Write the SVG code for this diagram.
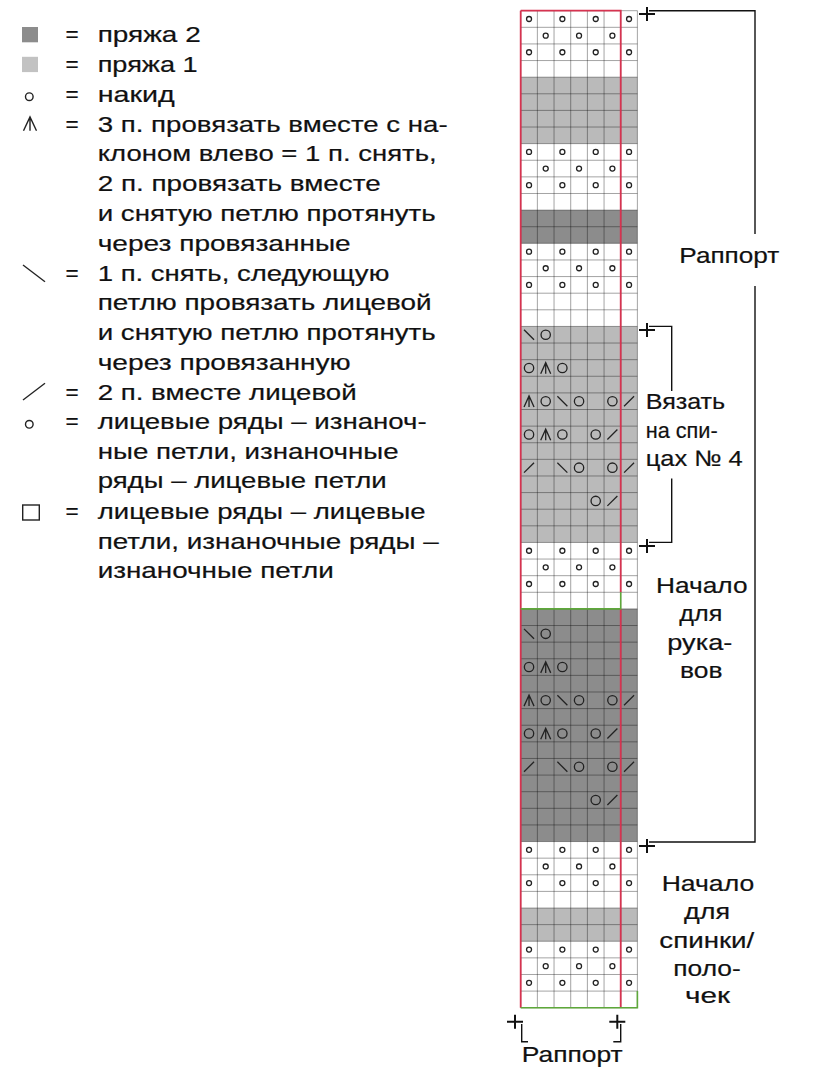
<svg xmlns="http://www.w3.org/2000/svg" xmlns:xlink="http://www.w3.org/1999/xlink" width="823" height="1080" viewBox="0 0 823 1080">
<style>
.t{font-family:"Liberation Sans",Arial,Helvetica,sans-serif;font-size:22.5px;fill:#111;stroke:#111;stroke-width:0.2}
.ln{fill:none;stroke:#111;stroke-width:1.4}
.pl{fill:none;stroke:#111;stroke-width:2}
.ic{fill:none;stroke:#222;stroke-width:1.4}
.grid{fill:none;stroke:#000;stroke-opacity:0.36;stroke-width:1;vector-effect:non-scaling-stroke}
.sym{fill:none;stroke:#222;stroke-width:1.3;vector-effect:non-scaling-stroke}
.red{fill:none;stroke:#d63350;stroke-width:1.8;vector-effect:non-scaling-stroke}
.grn{fill:none;stroke:#5ea83a;stroke-width:1.6;vector-effect:non-scaling-stroke}
.y1{fill:#bababa}
.y2{fill:#8c8c8c}
</style>
<defs>
<circle id="s" cx="0.5" cy="0.5" r="0.15" class="sym"/>
<circle id="o" cx="0.5" cy="0.5" r="0.28" class="sym"/>
<path id="b" d="M0.2,0.2L0.8,0.8" class="sym"/>
<path id="f" d="M0.2,0.8L0.8,0.2" class="sym"/>
<path id="l" d="M0.2,0.85L0.5,0.18L0.8,0.85M0.5,0.18V0.85" class="sym"/>
<path id="plus" d="M-8,0H8M0,-7V7" class="pl"/>
</defs>
<rect width="823" height="1080" fill="#fff"/>

<g id="legend">
<g id="leg-yarn2"><rect x="22" y="27" width="16" height="15.3" fill="#8c8c8c"/><text class="t" x="65.5" y="42.3">=</text><text class="t" x="97.7" y="42.3" textLength="103" lengthAdjust="spacingAndGlyphs">пряжа 2</text></g>
<g id="leg-yarn1"><rect x="22" y="56.8" width="16" height="15.3" fill="#c2c2c2"/><text class="t" x="65.5" y="72.1">=</text><text class="t" x="97.7" y="72.1" textLength="100" lengthAdjust="spacingAndGlyphs">пряжа 1</text></g>
<g id="leg-yo"><circle cx="29.3" cy="96.7" r="3.8" class="ic"/><text class="t" x="65.5" y="101.9">=</text><text class="t" x="97.7" y="101.9" textLength="77" lengthAdjust="spacingAndGlyphs">накид</text></g>
<g id="leg-sk2p"><path d="M23.5,130.7L30,117L36.5,130.7M30,117V130.7" class="ic"/><text class="t" x="65.5" y="131.6">=</text>
<text class="t" x="97.7" y="131.6" textLength="350" lengthAdjust="spacingAndGlyphs">3 п. провязать вместе с на-</text>
<text class="t" x="97.7" y="161.4" textLength="339" lengthAdjust="spacingAndGlyphs">клоном влево = 1 п. снять,</text>
<text class="t" x="97.7" y="191.2" textLength="283" lengthAdjust="spacingAndGlyphs">2 п. провязать вместе</text>
<text class="t" x="97.7" y="221" textLength="338" lengthAdjust="spacingAndGlyphs">и снятую петлю протянуть</text>
<text class="t" x="97.7" y="250.8" textLength="253" lengthAdjust="spacingAndGlyphs">через провязанные</text></g>
<g id="leg-ssk"><path d="M23,265L45,281.7" class="ic"/><text class="t" x="65.5" y="280.5">=</text>
<text class="t" x="97.7" y="280.5" textLength="291.6" lengthAdjust="spacingAndGlyphs">1 п. снять, следующую</text>
<text class="t" x="97.7" y="310.3" textLength="334" lengthAdjust="spacingAndGlyphs">петлю провязать лицевой</text>
<text class="t" x="97.7" y="340.1" textLength="338" lengthAdjust="spacingAndGlyphs">и снятую петлю протянуть</text>
<text class="t" x="97.7" y="369.9" textLength="253" lengthAdjust="spacingAndGlyphs">через провязанную</text></g>
<g id="leg-k2tog"><path d="M23,400L45,383.3" class="ic"/><text class="t" x="65.5" y="399.7">=</text>
<text class="t" x="97.7" y="399.7" textLength="259" lengthAdjust="spacingAndGlyphs">2 п. вместе лицевой</text></g>
<g id="leg-purl"><circle cx="29.3" cy="424.3" r="3.8" class="ic"/><text class="t" x="65.5" y="429.4">=</text>
<text class="t" x="97.7" y="429.4" textLength="329" lengthAdjust="spacingAndGlyphs">лицевые ряды – изнаноч-</text>
<text class="t" x="97.7" y="458.5" textLength="301" lengthAdjust="spacingAndGlyphs">ные петли, изнаночные</text>
<text class="t" x="97.7" y="488" textLength="289" lengthAdjust="spacingAndGlyphs">ряды – лицевые петли</text></g>
<g id="leg-knit"><rect x="22.7" y="505" width="16.6" height="15" class="ic" stroke-width="1.5"/><text class="t" x="65.5" y="518.8">=</text>
<text class="t" x="97.7" y="518.8" textLength="328" lengthAdjust="spacingAndGlyphs">лицевые ряды – лицевые</text>
<text class="t" x="97.7" y="548.6" textLength="341" lengthAdjust="spacingAndGlyphs">петли, изнаночные ряды –</text>
<text class="t" x="97.7" y="578.3" textLength="236" lengthAdjust="spacingAndGlyphs">изнаночные петли</text></g>
</g>

<g id="chart" transform="translate(520.7,10.7) scale(16.67,16.617)">
<rect x="0" y="4" width="7" height="4" class="y1"/>
<rect x="0" y="12" width="7" height="2" class="y2"/>
<rect x="0" y="19" width="7" height="13" class="y1"/>
<rect x="0" y="36" width="7" height="14" class="y2"/>
<rect x="0" y="54" width="7" height="2" class="y1"/>
<path class="grid" d="M0,0V60M1,0V60M2,0V60M3,0V60M4,0V60M5,0V60M6,0V60M7,0V60M0,0H7M0,1H7M0,2H7M0,3H7M0,4H7M0,5H7M0,6H7M0,7H7M0,8H7M0,9H7M0,10H7M0,11H7M0,12H7M0,13H7M0,14H7M0,15H7M0,16H7M0,17H7M0,18H7M0,19H7M0,20H7M0,21H7M0,22H7M0,23H7M0,24H7M0,25H7M0,26H7M0,27H7M0,28H7M0,29H7M0,30H7M0,31H7M0,32H7M0,33H7M0,34H7M0,35H7M0,36H7M0,37H7M0,38H7M0,39H7M0,40H7M0,41H7M0,42H7M0,43H7M0,44H7M0,45H7M0,46H7M0,47H7M0,48H7M0,49H7M0,50H7M0,51H7M0,52H7M0,53H7M0,54H7M0,55H7M0,56H7M0,57H7M0,58H7M0,59H7M0,60H7"/>
<g id="purl-stitches">
<use href="#s" x="0" y="0"/><use href="#s" x="2" y="0"/><use href="#s" x="4" y="0"/><use href="#s" x="6" y="0"/>
<use href="#s" x="1" y="1"/><use href="#s" x="3" y="1"/><use href="#s" x="5" y="1"/>
<use href="#s" x="0" y="2"/><use href="#s" x="2" y="2"/><use href="#s" x="4" y="2"/><use href="#s" x="6" y="2"/>
<use href="#s" x="0" y="8"/><use href="#s" x="2" y="8"/><use href="#s" x="4" y="8"/><use href="#s" x="6" y="8"/>
<use href="#s" x="1" y="9"/><use href="#s" x="3" y="9"/><use href="#s" x="5" y="9"/>
<use href="#s" x="0" y="10"/><use href="#s" x="2" y="10"/><use href="#s" x="4" y="10"/><use href="#s" x="6" y="10"/>
<use href="#s" x="0" y="14"/><use href="#s" x="2" y="14"/><use href="#s" x="4" y="14"/><use href="#s" x="6" y="14"/>
<use href="#s" x="1" y="15"/><use href="#s" x="3" y="15"/><use href="#s" x="5" y="15"/>
<use href="#s" x="0" y="16"/><use href="#s" x="2" y="16"/><use href="#s" x="4" y="16"/><use href="#s" x="6" y="16"/>
<use href="#s" x="0" y="32"/><use href="#s" x="2" y="32"/><use href="#s" x="4" y="32"/><use href="#s" x="6" y="32"/>
<use href="#s" x="1" y="33"/><use href="#s" x="3" y="33"/><use href="#s" x="5" y="33"/>
<use href="#s" x="0" y="34"/><use href="#s" x="2" y="34"/><use href="#s" x="4" y="34"/><use href="#s" x="6" y="34"/>
<use href="#s" x="0" y="50"/><use href="#s" x="2" y="50"/><use href="#s" x="4" y="50"/><use href="#s" x="6" y="50"/>
<use href="#s" x="1" y="51"/><use href="#s" x="3" y="51"/><use href="#s" x="5" y="51"/>
<use href="#s" x="0" y="52"/><use href="#s" x="2" y="52"/><use href="#s" x="4" y="52"/><use href="#s" x="6" y="52"/>
<use href="#s" x="0" y="56"/><use href="#s" x="2" y="56"/><use href="#s" x="4" y="56"/><use href="#s" x="6" y="56"/>
<use href="#s" x="1" y="57"/><use href="#s" x="3" y="57"/><use href="#s" x="5" y="57"/>
<use href="#s" x="0" y="58"/><use href="#s" x="2" y="58"/><use href="#s" x="4" y="58"/><use href="#s" x="6" y="58"/>
</g>
<g id="lace-yarn1">
<use href="#b" x="0" y="19"/><use href="#o" x="1" y="19"/>
<use href="#o" x="0" y="21"/><use href="#l" x="1" y="21"/><use href="#o" x="2" y="21"/>
<use href="#l" x="0" y="23"/><use href="#o" x="1" y="23"/><use href="#b" x="2" y="23"/><use href="#o" x="3" y="23"/><use href="#o" x="5" y="23"/><use href="#f" x="6" y="23"/>
<use href="#o" x="0" y="25"/><use href="#l" x="1" y="25"/><use href="#o" x="2" y="25"/><use href="#o" x="4" y="25"/><use href="#f" x="5" y="25"/>
<use href="#f" x="0" y="27"/><use href="#b" x="2" y="27"/><use href="#o" x="3" y="27"/><use href="#o" x="5" y="27"/><use href="#f" x="6" y="27"/>
<use href="#o" x="4" y="29"/><use href="#f" x="5" y="29"/>
</g>
<g id="lace-yarn2">
<use href="#b" x="0" y="37"/><use href="#o" x="1" y="37"/>
<use href="#o" x="0" y="39"/><use href="#l" x="1" y="39"/><use href="#o" x="2" y="39"/>
<use href="#l" x="0" y="41"/><use href="#o" x="1" y="41"/><use href="#b" x="2" y="41"/><use href="#o" x="3" y="41"/><use href="#o" x="5" y="41"/><use href="#f" x="6" y="41"/>
<use href="#o" x="0" y="43"/><use href="#l" x="1" y="43"/><use href="#o" x="2" y="43"/><use href="#o" x="4" y="43"/><use href="#f" x="5" y="43"/>
<use href="#f" x="0" y="45"/><use href="#b" x="2" y="45"/><use href="#o" x="3" y="45"/><use href="#o" x="5" y="45"/><use href="#f" x="6" y="45"/>
<use href="#o" x="4" y="47"/><use href="#f" x="5" y="47"/>
</g>
<path class="red" d="M0,0V60M0,0H6V35M6,36V60"/>
<path class="grn" d="M0,36H6V35M0,60H7V59"/>
</g>

<g id="connectors">
<path class="ln" d="M649,10.7H755V234M755,286V842H649"/>
<path class="ln" d="M649,326.4H671.7V391M671.7,478.6V542.4H649"/>
<path class="ln" d="M521.7,1024V1041.7H528M620.7,1024V1041.7H613.3"/>
<use href="#plus" x="647" y="14"/>
<use href="#plus" x="647" y="846"/>
<use href="#plus" x="647" y="330"/>
<use href="#plus" x="647" y="546"/>
<use href="#plus" x="515" y="1021.7"/>
<use href="#plus" x="617.3" y="1021.7"/>
</g>

<g id="label-rapport-rows"><text class="t" x="679.3" y="263.3" textLength="100" lengthAdjust="spacingAndGlyphs">Раппорт</text></g>
<g id="label-needles">
<text class="t" x="645.7" y="409" textLength="79.5" lengthAdjust="spacingAndGlyphs">Вязать</text>
<text class="t" x="645.7" y="437.5" textLength="72" lengthAdjust="spacingAndGlyphs">на спи-</text>
<text class="t" x="645.7" y="466" textLength="97" lengthAdjust="spacingAndGlyphs">цах № 4</text>
</g>
<g id="label-sleeves">
<text class="t" x="656" y="593.4" textLength="91.5" lengthAdjust="spacingAndGlyphs">Начало</text>
<text class="t" x="679.3" y="621" textLength="43" lengthAdjust="spacingAndGlyphs">для</text>
<text class="t" x="667.3" y="650" textLength="65" lengthAdjust="spacingAndGlyphs">рука-</text>
<text class="t" x="680" y="677.7" textLength="42.5" lengthAdjust="spacingAndGlyphs">вов</text>
</g>
<g id="label-back">
<text class="t" x="661.7" y="891" textLength="92.5" lengthAdjust="spacingAndGlyphs">Начало</text>
<text class="t" x="684" y="919" textLength="46" lengthAdjust="spacingAndGlyphs">для</text>
<text class="t" x="659.3" y="948" textLength="95" lengthAdjust="spacingAndGlyphs">спинки/</text>
<text class="t" x="673.3" y="975.6" textLength="67.5" lengthAdjust="spacingAndGlyphs">поло-</text>
<text class="t" x="685" y="1003" textLength="45" lengthAdjust="spacingAndGlyphs">чек</text>
</g>
<g id="label-rapport-cols"><text class="t" x="521.7" y="1061.7" textLength="101" lengthAdjust="spacingAndGlyphs">Раппорт</text></g>
</svg>
